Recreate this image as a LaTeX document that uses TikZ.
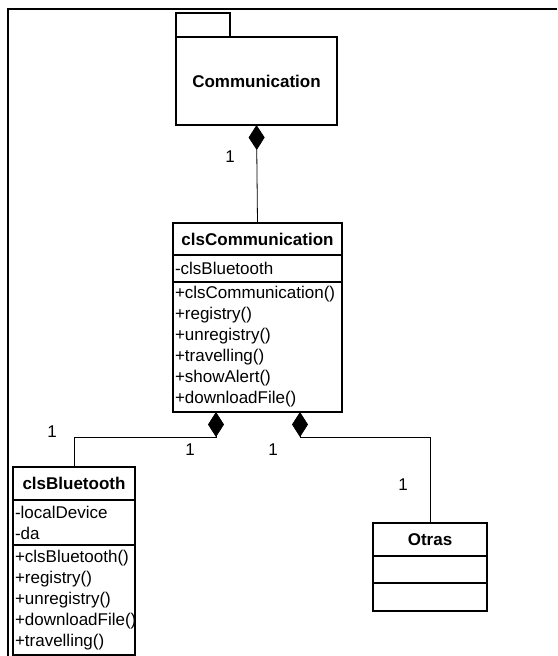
\documentclass[tikz,border=0pt]{standalone}
\usepackage{fontspec}
\setmainfont{Liberation Sans}
\usetikzlibrary{arrows.meta,calc,positioning}

\tikzset{
  part/.style={draw, line width=1.2pt, outer sep=0pt, inner xsep=2pt, inner ysep=0pt,
    anchor=north west, font=\fontsize{17}{21}\selectfont},
  head/.style={part, align=center, font=\fontsize{17}{21}\selectfont\bfseries},
  body/.style={part, align=left},
  compo/.style={line width=0.8pt, {Diamond[length=25pt,width=16pt]}-},
  mult/.style={font=\fontsize{17}{21}\selectfont, inner sep=0pt}
}

\begin{document}
\begin{tikzpicture}[x=1pt,y=-1pt]
        \useasboundingbox (0,0) rectangle (557,656);
        \draw[line width=1.2pt] (557,9) -- (8,9) -- (8,656);

        % package
        \node[head, minimum width=161pt, minimum height=88pt] (pkg) at (176,37) {Communication};
        \node[part, anchor=south west, minimum width=54pt, minimum height=24pt] (pkgTab) at (pkg.north west) {};

        % clsCommunication
        \node[head, text width=165pt, minimum height=32pt] (commHead) at (173,223) {clsCommunication};
        \node[body, text width=165pt, minimum height=27pt] (commAttr) at (commHead.south west) {-clsBluetooth};
        \node[body, text width=165pt, minimum height=130pt] (commMeth) at (commAttr.south west)
            {+clsCommunication()\\+registry()\\+unregistry()\\+travelling()\\+showAlert()\\+downloadFile()};

        % clsBluetooth
        \node[head, text width=118pt, minimum height=33pt] (blueHead) at (13,467) {clsBluetooth};
        \node[body, text width=118pt, minimum height=45pt] (blueAttr) at (blueHead.south west) {-localDevice\\-da};
        \node[body, text width=118pt, minimum height=110pt] (blueMeth) at (blueAttr.south west)
            {+clsBluetooth()\\+registry()\\+unregistry()\\+downloadFile()\\+travelling()};

        % Otras
        \node[head, text width=110pt, minimum height=33pt] (otrasHead) at (373,523) {Otras};
        \node[body, text width=110pt, minimum height=27pt] (otrasAttr) at (otrasHead.south west) {};
        \node[body, text width=110pt, minimum height=28pt] (otrasMeth) at (otrasAttr.south west) {};

        % compositions
        \draw[compo] (pkg.south) -- (commHead.north);
        \draw[compo] ($(commMeth.south west)+(43,0)$) -- ++(0,25) -| (blueHead.north);
        \draw[compo] ($(commMeth.south west)+(127,0)$) -- ++(0,25) -| (otrasHead.north);

        % multiplicities
        \node[mult] (mPkg) at (230,157) {1};
        \node[mult] (mBlue) at (52,432) {1};
        \node[mult] (mCommL) at (190,450) {1};
        \node[mult] (mCommR) at (273,450) {1};
        \node[mult] (mOtras) at (403,485) {1};
    \end{tikzpicture}
\end{document}
